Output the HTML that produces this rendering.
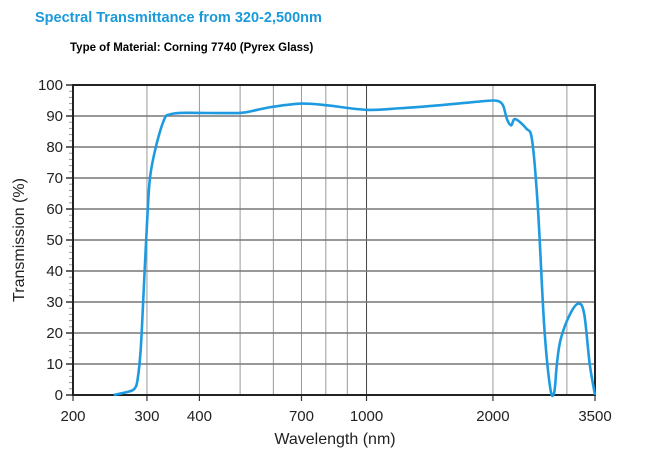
<!DOCTYPE html>
<html><head><meta charset="utf-8"><style>
body{margin:0;background:#fff;width:668px;height:474px;overflow:hidden;font-family:"Liberation Sans",Arial,sans-serif}
.t1{position:absolute;left:35px;top:10px;color:#1a9ad9;font-weight:bold;font-size:14.5px}
.t2{position:absolute;left:70px;top:42px;color:#000;font-weight:bold;font-size:11.5px}
</style></head><body>
<div class="t1">Spectral Transmittance from 320-2,500nm</div>
<div class="t2">Type of Material: Corning 7740 (Pyrex Glass)</div>
<svg id="c" width="668" height="474" style="position:absolute;left:0;top:0"></svg>
<script>
const wavelengths=[250,270,280,285,290,295,300,305,315,330,340,360,400,500,550,600,700,800,1000,1200,1500,1800,2000,2080,2120,2160,2210,2260,2400,2480,2560,2650,2740,2800,2840,2900,3050,3200,3300,3400,3500];
const transmission=[0,1,2,5,15,35,55,70,80,89,90.5,91,91,91,92,93,94,93.5,92,92.5,93.5,94.5,95,94.5,93,89,87,89,86,82,60,22,2,1,10,18,26,29.5,26,10,0];
const xTicks=[200,300,400,700,1000,2000,3500];
const yTicks=[0,10,20,30,40,50,60,70,80,90,100];
const xGrid=[300,400,500,600,700,800,900,1000,2000,3000];
const svg=document.getElementById('c');const NS='http://www.w3.org/2000/svg';
const X0=73,X1=595,Y0=395,Y1=85;
const xs=v=>X0+(X1-X0)*Math.log(v/200)/Math.log(3500/200);
const ys=v=>Y0-(Y0-Y1)*v/100;
function mk(t,a,p){const e=document.createElementNS(NS,t);for(const k in a)e.setAttribute(k,a[k]);(p||svg).appendChild(e);return e;}
xGrid.forEach(v=>{const l=mk('line',{x1:xs(v),x2:xs(v),y1:Y1,y2:Y0,stroke:v==1000?'#444':'#999','stroke-width':1});

});
yTicks.forEach(v=>{if(v>0&&v<100){const l=mk('line',{x1:X0,x2:X1,y1:ys(v),y2:ys(v),stroke:'#777','stroke-width':1.6});

}
mk('line',{x1:X0-7,x2:X0,y1:ys(v),y2:ys(v),stroke:'#333','stroke-width':1.5});
const t=mk('text',{x:X0-10,y:ys(v)+5,'text-anchor':'end','font-size':15,fill:'#222'});t.textContent=v;

});
for(let v=2;v<100;v+=2){if(v%10)mk('line',{x1:X0-4,x2:X0,y1:ys(v),y2:ys(v),stroke:'#999','stroke-width':1});}
xTicks.forEach(v=>{mk('line',{x1:xs(v),x2:xs(v),y1:Y0,y2:Y0+6,stroke:'#333','stroke-width':1.2});
const t=mk('text',{x:xs(v),y:Y0+26,'text-anchor':'middle','font-size':15,fill:'#222'});t.textContent=v;

});
const fr=mk('rect',{x:X0,y:Y1,width:X1-X0,height:Y0-Y1,fill:'none',stroke:'#222','stroke-width':2});


const P=wavelengths.map((w,i)=>[xs(w),ys(transmission[i])]);
let d='M'+P[0][0]+','+P[0][1];
for(let i=0;i<P.length-1;i++){const p0=P[Math.max(0,i-1)],p1=P[i],p2=P[i+1],p3=P[Math.min(P.length-1,i+2)];
const c1=[p1[0]+(p2[0]-p0[0])/6,p1[1]+(p2[1]-p0[1])/6],c2=[p2[0]-(p3[0]-p1[0])/6,p2[1]-(p3[1]-p1[1])/6];
d+=`C${c1[0]},${c1[1]} ${c2[0]},${c2[1]} ${p2[0]},${p2[1]}`;}
const ln=mk('path',{d:d,fill:'none',stroke:'#1e9be0','stroke-width':2.6,'stroke-linejoin':'round'});


const xt=mk('text',{x:335,y:444,'text-anchor':'middle','font-size':16,fill:'#222'});xt.textContent='Wavelength (nm)';


const yt=mk('text',{x:0,y:0,'text-anchor':'middle','font-size':16,fill:'#222',transform:'translate(24,240) rotate(-90)'});yt.textContent='Transmission (%)';


</script>
</body></html>
